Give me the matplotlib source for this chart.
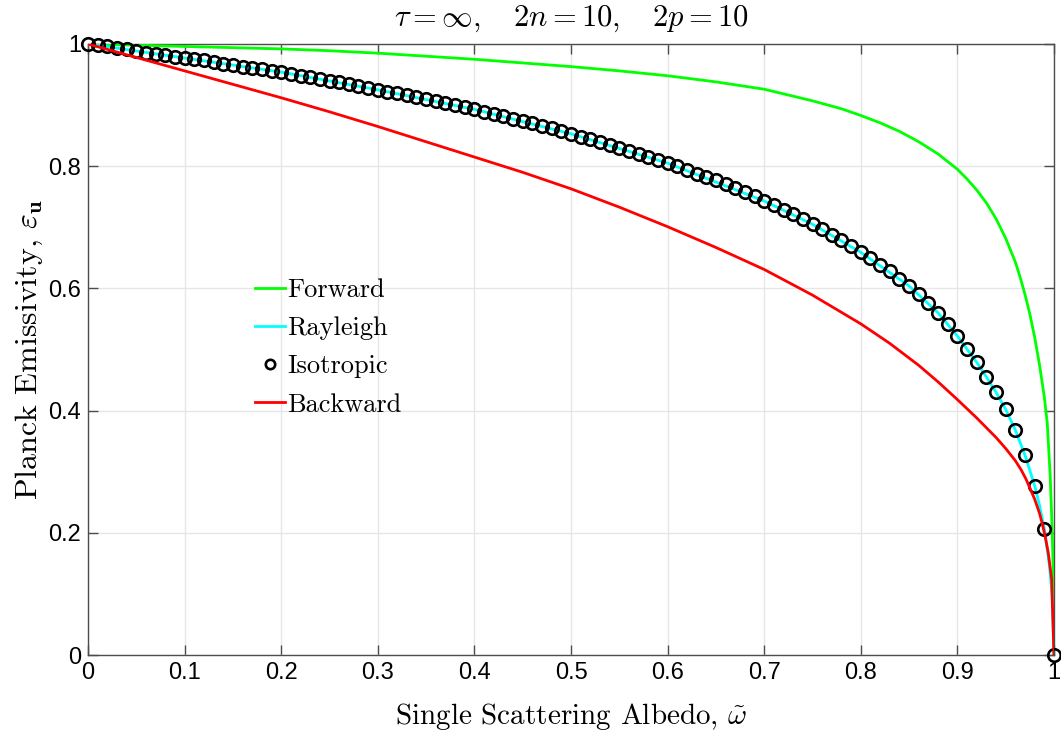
import numpy as np
import matplotlib
matplotlib.use("Agg")
import matplotlib.pyplot as plt

plt.rcParams["mathtext.fontset"] = "cm"
plt.rcParams["axes.unicode_minus"] = False

# Single scattering albedo grid (markers every 0.01)
albedo = np.round(np.arange(0, 101) * 0.01, 2)

# Planck emissivity, isotropic scattering
iso_eps = [
    1.000, 0.998, 0.996, 0.993, 0.991, 0.989, 0.986, 0.984, 0.982, 0.979,
    0.977, 0.975, 0.973, 0.970, 0.968, 0.966, 0.963, 0.961, 0.959, 0.956,
    0.954, 0.951, 0.948, 0.946, 0.943, 0.940, 0.937, 0.934, 0.931, 0.928,
    0.925, 0.922, 0.919, 0.916, 0.913, 0.910, 0.907, 0.903, 0.900, 0.897,
    0.893, 0.889, 0.886, 0.882, 0.878, 0.874, 0.870, 0.866, 0.862, 0.857,
    0.853, 0.848, 0.844, 0.839, 0.835, 0.830, 0.825, 0.820, 0.815, 0.810,
    0.805, 0.800, 0.794, 0.788, 0.783, 0.777, 0.771, 0.764, 0.758, 0.751,
    0.743, 0.736, 0.729, 0.721, 0.713, 0.705, 0.697, 0.688, 0.679, 0.669,
    0.659, 0.649, 0.639, 0.628, 0.616, 0.604, 0.591, 0.576, 0.560, 0.542,
    0.522, 0.501, 0.479, 0.455, 0.430, 0.402, 0.368, 0.327, 0.277, 0.206,
    0.000,
]

# Rayleigh scattering (nearly coincides with isotropic)
ray_albedo = [0.0, 0.1, 0.2, 0.3, 0.4, 0.5, 0.6, 0.7, 0.75, 0.8, 0.85, 0.88,
              0.9, 0.92, 0.93, 0.94, 0.95, 0.96, 0.97, 0.98, 0.985, 0.99,
              0.995, 0.998, 1.0]
ray_eps = [1.000, 0.977, 0.954, 0.925, 0.893, 0.853, 0.805, 0.743, 0.705, 0.659,
           0.604, 0.560, 0.522, 0.479, 0.455, 0.430, 0.402, 0.368, 0.327, 0.277,
           0.245, 0.206, 0.150, 0.100, 0.000]

# Forward scattering
fwd_albedo = [0.0, 0.05, 0.1, 0.15, 0.2, 0.25, 0.3, 0.35, 0.4, 0.45, 0.5, 0.55,
              0.6, 0.65, 0.7, 0.75, 0.78, 0.8, 0.82, 0.84, 0.86, 0.88, 0.9,
              0.91, 0.92, 0.93, 0.94, 0.95, 0.96, 0.965, 0.97, 0.975, 0.98,
              0.985, 0.99, 0.993, 0.996, 0.998, 0.999, 1.0]
fwd_eps = [1.000, 0.998, 0.996, 0.994, 0.992, 0.989, 0.985, 0.980, 0.975, 0.969,
           0.963, 0.956, 0.948, 0.938, 0.926, 0.907, 0.894, 0.883, 0.871, 0.857,
           0.840, 0.820, 0.795, 0.779, 0.761, 0.740, 0.714, 0.682, 0.643, 0.618,
           0.590, 0.558, 0.520, 0.475, 0.422, 0.380, 0.295, 0.210, 0.150, 0.000]

# Backward scattering
bwd_albedo = [0.0, 0.05, 0.1, 0.15, 0.2, 0.25, 0.3, 0.35, 0.4, 0.45, 0.5, 0.55,
              0.6, 0.65, 0.7, 0.75, 0.8, 0.83, 0.86, 0.88, 0.9, 0.92, 0.94,
              0.95, 0.96, 0.966, 0.971, 0.98, 0.985, 0.988, 0.991, 0.994,
              0.9975, 1.0]
bwd_eps = [1.000, 0.978, 0.956, 0.934, 0.912, 0.889, 0.865, 0.840, 0.815, 0.790,
           0.763, 0.733, 0.701, 0.667, 0.631, 0.589, 0.542, 0.510, 0.474, 0.447,
           0.418, 0.388, 0.356, 0.338, 0.318, 0.303, 0.288, 0.255, 0.232, 0.214,
           0.193, 0.168, 0.125, 0.000]

x_ticks = [0, 0.1, 0.2, 0.3, 0.4, 0.5, 0.6, 0.7, 0.8, 0.9, 1]
x_ticklabels = ["0", "0.1", "0.2", "0.3", "0.4", "0.5", "0.6", "0.7", "0.8", "0.9", "1"]
y_ticks = [0, 0.2, 0.4, 0.6, 0.8, 1]
y_ticklabels = ["0", "0.2", "0.4", "0.6", "0.8", "1"]

fig = plt.figure(figsize=(10.61, 7.47), dpi=100)
ax = fig.add_axes([88 / 1061, 92 / 747, 966 / 1061, 611 / 747])

ax.plot(fwd_albedo, fwd_eps, color="#00ff00", lw=2.0, label="Forward", zorder=3)
ax.plot(ray_albedo, ray_eps, color="#00ffff", lw=2.0, label="Rayleigh", zorder=3)
ax.plot(albedo, iso_eps, ls="none", marker="o", ms=9, mfc="none", mec="black",
        mew=1.9, label="Isotropic", zorder=4, clip_on=False)
ax.plot(bwd_albedo, bwd_eps, color="#ff0000", lw=2.0, label="Backward", zorder=5)

ax.set_xlim(0, 1)
ax.set_ylim(0, 1)
ax.set_xticks(x_ticks)
ax.set_xticklabels(x_ticklabels)
ax.set_yticks(y_ticks)
ax.set_yticklabels(y_ticklabels)

for lab in ax.get_xticklabels() + ax.get_yticklabels():
    lab.set_fontfamily("Liberation Sans")
    lab.set_fontsize(17)

ax.tick_params(direction="in", length=7, width=1, color="#4d4d4d",
               top=True, right=True, pad=5, labelcolor="black")
ax.grid(True, color="#e6e6e6", lw=1.0, zorder=0)
ax.set_axisbelow(True)
for sp in ax.spines.values():
    sp.set_color("#4d4d4d")
    sp.set_linewidth(1.0)

ax.set_xlabel(r"Single Scattering Albedo, $\tilde{\omega}$", fontfamily="cmr10",
              fontsize=21, labelpad=12)
ax.set_ylabel(r"Planck Emissivity, $\varepsilon_{\mathbf{u}}$", fontfamily="cmr10",
              fontsize=23, labelpad=2)
ax.set_title(r"$\tau = \infty, \quad 2n = 10, \quad 2p = 10$", fontsize=22, pad=13)

leg = ax.legend(loc="upper left", bbox_to_anchor=(0.162, 0.634), frameon=False,
                prop={"family": "cmr10", "size": 19}, handlelength=1.15,
                handletextpad=0.08, labelspacing=0.55, borderaxespad=0,
                markerscale=0.75)

fig.savefig("out.png", dpi=100, facecolor="white")
